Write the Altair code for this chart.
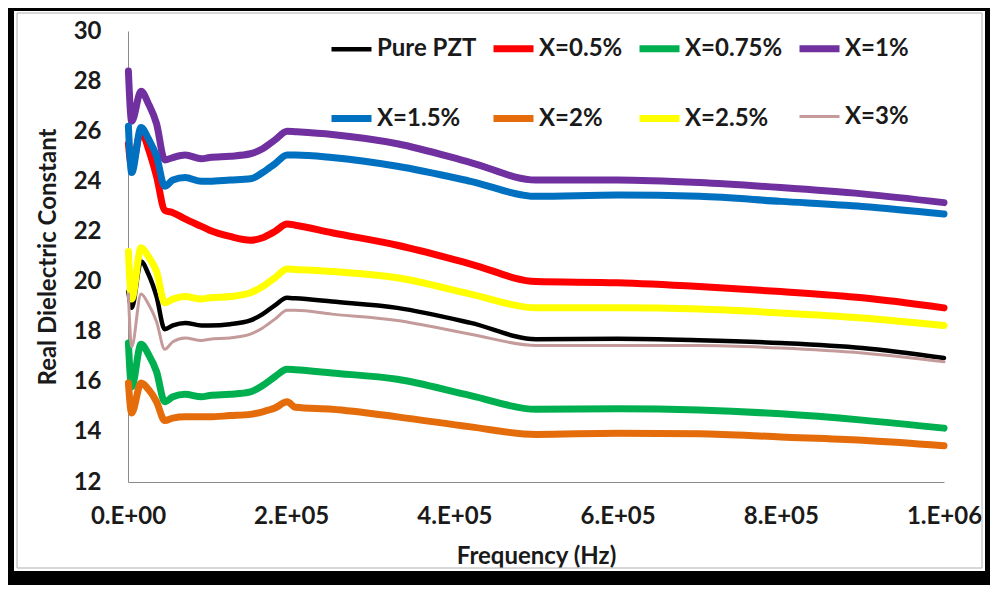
import json
import altair as alt
import pandas as pd

# ---------------- data ----------------
freq = [500, 4500, 16000, 25000, 35000, 45000, 55000, 70000, 90000, 100000,
        125000, 150000, 165000, 180000, 195000, 205000, 250000, 330000, 420000,
        500000, 600000, 700000, 800000, 900000, 1000000]

series_names = ["Pure PZT", "X=0.5%", "X=0.75%", "X=1%",
                "X=1.5%", "X=2%", "X=2.5%", "X=3%"]

pure_pzt = [19.6, 18.95, 20.8, 20.3, 19.4, 18.1, 18.25, 18.35, 18.25, 18.25,
            18.3, 18.45, 18.7, 19.05, 19.35, 19.33, 19.2, 18.95, 18.35,
            17.7, 17.72, 17.66, 17.55, 17.35, 16.95]
x_05 = [25.5, 24.6, 26.0, 25.3, 24.2, 22.85, 22.75, 22.5, 22.2, 22.05,
        21.8, 21.65, 21.75, 22.0, 22.3, 22.25, 21.95, 21.45, 20.7,
        20.0, 19.95, 19.8, 19.6, 19.35, 18.95]
x_075 = [17.55, 15.8, 17.5, 17.1, 16.4, 15.2, 15.4, 15.5, 15.4, 15.45,
         15.5, 15.6, 15.85, 16.2, 16.5, 16.48, 16.35, 16.1, 15.45,
         14.9, 14.92, 14.87, 14.72, 14.47, 14.15]
x_1 = [28.4, 26.4, 27.6, 27.1, 26.3, 24.85, 24.95, 25.05, 24.9, 24.95,
       25.0, 25.1, 25.3, 25.65, 26.0, 25.98, 25.87, 25.5, 24.75,
       24.05, 24.05, 23.95, 23.75, 23.5, 23.15]
x_15 = [26.2, 24.35, 26.15, 25.7, 25.0, 23.8, 24.05, 24.15, 24.0, 24.0,
        24.05, 24.1, 24.35, 24.7, 25.05, 25.05, 24.95, 24.6, 24.0,
        23.4, 23.45, 23.4, 23.2, 23.0, 22.7]
x_2 = [15.95, 14.75, 15.95, 15.7, 15.2, 14.45, 14.55, 14.6, 14.6, 14.6,
       14.65, 14.7, 14.8, 14.95, 15.2, 14.98, 14.9, 14.6, 14.2,
       13.9, 13.95, 13.93, 13.8, 13.67, 13.45]
x_25 = [21.2, 19.3, 21.35, 21.0, 20.4, 19.15, 19.3, 19.4, 19.3, 19.35,
        19.4, 19.55, 19.8, 20.15, 20.5, 20.48, 20.4, 20.15, 19.5,
        18.95, 18.95, 18.9, 18.75, 18.55, 18.25]
x_3 = [19.5, 17.4, 19.5, 19.1, 18.4, 17.3, 17.6, 17.75, 17.65, 17.7,
       17.75, 17.9, 18.15, 18.5, 18.85, 18.85, 18.7, 18.45, 17.9,
       17.45, 17.45, 17.45, 17.35, 17.15, 16.8]

series_values = [pure_pzt, x_05, x_075, x_1, x_15, x_2, x_25, x_3]

colors = ["#000000", "#FF0000", "#00B050", "#7030A0",
          "#0070C0", "#E46C0A", "#FFFF00", "#C49A9A"]
widths = [4.5, 7, 7, 7, 7, 7, 7, 3]

y_ticks = [12, 14, 16, 18, 20, 22, 24, 26, 28, 30]
x_ticks = [0, 200000, 400000, 600000, 800000, 1000000]
x_tick_labels = ["0.E+00", "2.E+05", "4.E+05", "6.E+05", "8.E+05", "1.E+06"]

# ---------------- table ----------------
rows = []
for order, (name, vals) in enumerate(zip(series_names, series_values)):
    for f, v in zip(freq, vals):
        rows.append({"series": name, "order": order, "freq": f, "value": v})
df = pd.DataFrame(rows)

FONT = "Lato"
W, H = 816, 451
PAD_L, PAD_T, PAD_R, PAD_B = 120, 23, 46, 103
TOTAL_W = PAD_L + W + PAD_R
TOTAL_H = PAD_T + H + PAD_B

label_expr = "%s[round(datum.value / 200000)]" % json.dumps(x_tick_labels)

lines = alt.Chart(df).mark_line(interpolate="monotone", strokeCap="round",
                                strokeJoin="round").encode(
    x=alt.X("freq:Q",
            scale=alt.Scale(domain=[0, 1000000], nice=False),
            axis=alt.Axis(values=x_ticks, labelExpr=label_expr,
                          title="Frequency (Hz)", grid=False, ticks=False,
                          tickSize=0, domainColor="#8c8c8c", domainWidth=1,
                          labelFont=FONT, labelFontSize=24,
                          labelFontWeight="bold", labelColor="#1a1a1a",
                          labelPadding=22, labelFlush=False,
                          titleFont=FONT, titleFontSize=24,
                          titleFontWeight="bold", titleColor="#1a1a1a",
                          titleBaseline="middle", titleY=74)),
    y=alt.Y("value:Q",
            scale=alt.Scale(domain=[12, 30], nice=False, zero=False),
            axis=alt.Axis(values=y_ticks, title="Real Dielectric Constant",
                          grid=False, ticks=False, tickSize=0,
                          domainColor="#8c8c8c", domainWidth=1,
                          labelFont=FONT, labelFontSize=24,
                          labelFontWeight="bold", labelColor="#1a1a1a",
                          labelPadding=27,
                          titleFont=FONT, titleFontSize=24,
                          titleFontWeight="bold", titleColor="#1a1a1a",
                          titleBaseline="middle", titleX=-80, titleY=H / 2)),
    color=alt.Color("series:N",
                    scale=alt.Scale(domain=series_names, range=colors),
                    sort=series_names,
                    legend=alt.Legend(orient="none", legendX=200, legendY=-6,
                                      direction="horizontal", columns=4,
                                      title=None, symbolType="stroke",
                                      symbolSize=1600, symbolStrokeWidth=7,
                                      labelFont=FONT, labelFontSize=24,
                                      labelFontWeight="bold",
                                      labelColor="#1a1a1a", labelOffset=2,
                                      columnPadding=2, rowPadding=32,
                                      labelLimit=300)),
    strokeWidth=alt.StrokeWidth("series:N",
                                scale=alt.Scale(type="ordinal",
                                                domain=series_names,
                                                range=widths),
                                legend=None),
    order=alt.Order("freq:Q"),
)

# decorative outer frame (black border and thin grey inner border)
frame_df = pd.DataFrame({"k": [0]})
x0, y0 = -PAD_L, -PAD_T
x1, y1 = TOTAL_W - PAD_L, TOTAL_H - PAD_T
bands = [
    (x0, x0 + 6, y0, y1),
    (x0, x1, y0, y0 + 3),
    (x1 - 5, x1, y0, y1),
    (x0, x1, y1 - 14, y1),
]
frame_layers = []
for (a, b, c, d) in bands:
    frame_layers.append(
        alt.Chart(frame_df).mark_rect(color="black").encode(
            x=alt.value(a), x2=alt.value(b), y=alt.value(c), y2=alt.value(d)))
frame_layers.append(
    alt.Chart(frame_df).mark_rect(fill=None, stroke="#b0b0b0",
                                  strokeWidth=1).encode(
        x=alt.value(x0 + 9), x2=alt.value(x1 - 8),
        y=alt.value(y0 + 5), y2=alt.value(y1 - 17)))

chart = alt.layer(lines, *frame_layers).properties(
    width=W, height=H,
    padding={"left": PAD_L, "top": PAD_T, "right": PAD_R, "bottom": PAD_B},
    autosize=alt.AutoSizeParams(type="none"),
    background="white",
).configure_view(stroke=None)

chart.save("out.html", embed_options={"renderer": "svg", "actions": False})
